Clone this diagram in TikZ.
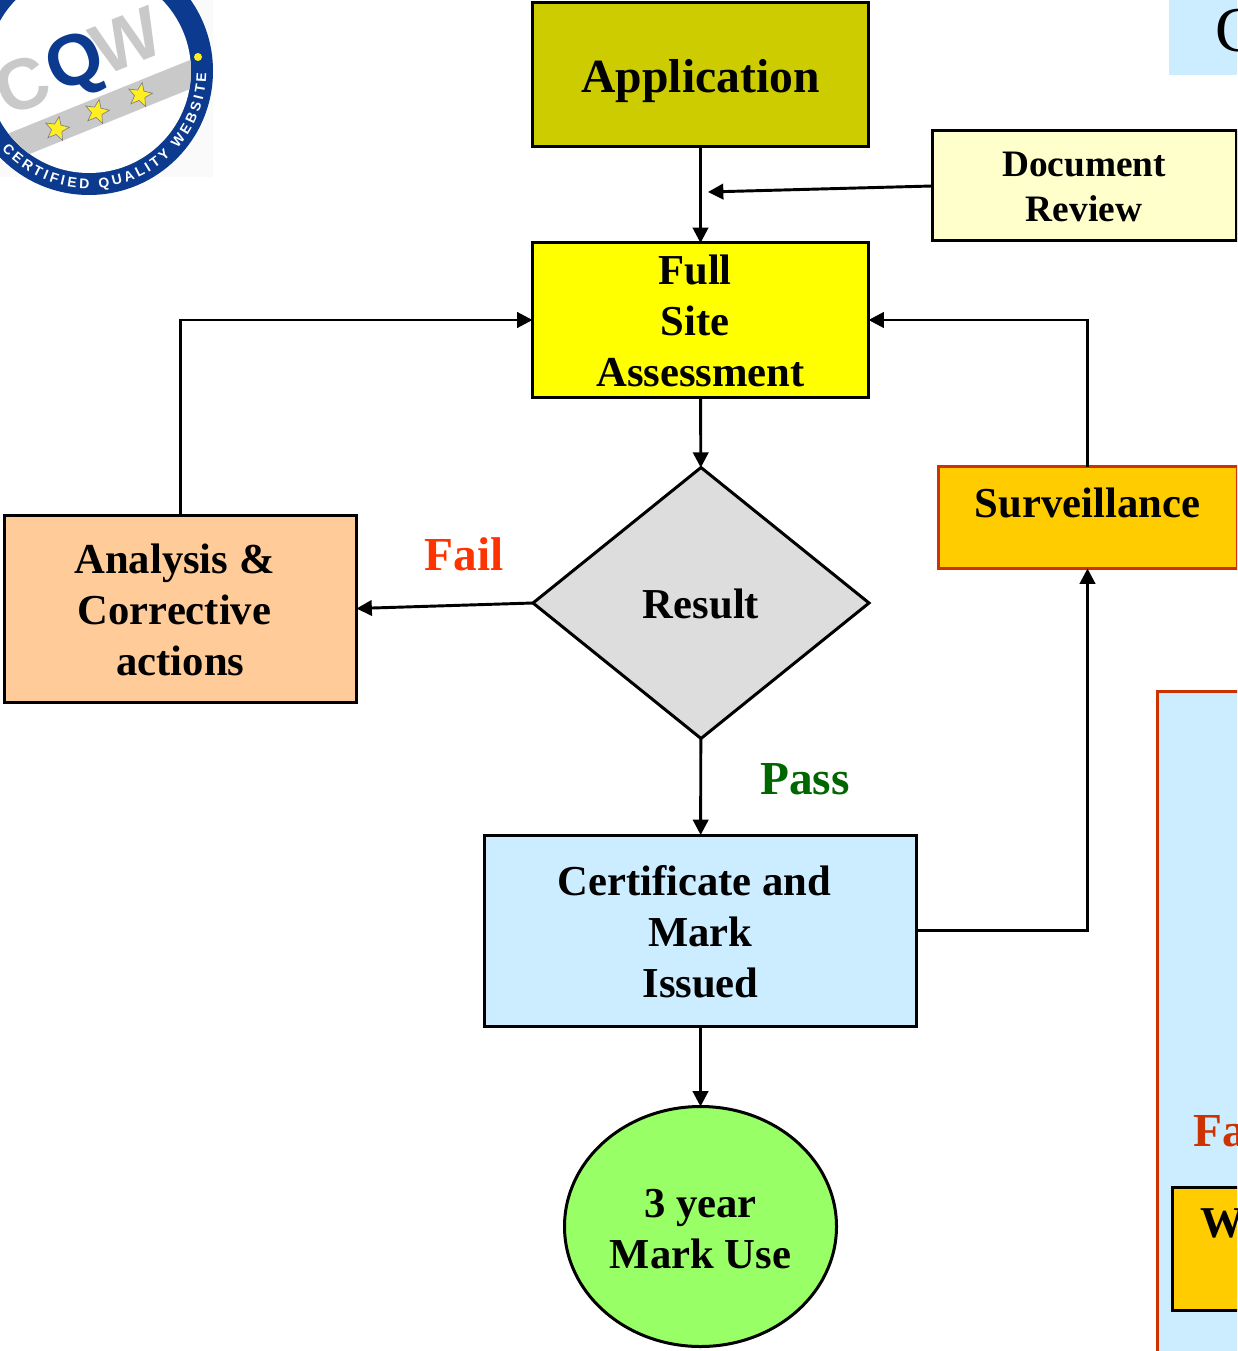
\documentclass[tikz,border=0pt]{standalone}
\usepackage{fontspec}
\setmainfont{Liberation Serif}
\newfontfamily\logosans{Liberation Sans}
\usetikzlibrary{arrows.meta,shapes.geometric,decorations.text}
\definecolor{cOlive}{HTML}{CCCC00}
\definecolor{cCream}{HTML}{FFFFCC}
\definecolor{cYellow}{HTML}{FFFF00}
\definecolor{cPeach}{HTML}{FFCC99}
\definecolor{cGrey}{HTML}{DDDDDD}
\definecolor{cAmber}{HTML}{FFCC00}
\definecolor{cSky}{HTML}{CCECFF}
\definecolor{cLime}{HTML}{99FF66}
\definecolor{cRust}{HTML}{CC3300}
\definecolor{cFail}{HTML}{FF3300}
\definecolor{cPass}{HTML}{006600}
\definecolor{cLogoBlue}{HTML}{0B3A8E}
\definecolor{cLogoGrey}{HTML}{C9C9C9}
\definecolor{cStar}{HTML}{FFEE22}
\newcommand{\shiftline}[2]{\mbox{#1\kern#2}}
\newcommand{\lowerstrut}{\rule{0pt}{23.5pt}}
\newcommand{\lowerstrutb}{\rule{0pt}{25pt}}
\newcommand{\lowerdocstrut}{\rule{0pt}{20pt}}
\tikzset{
  x=0.75pt,y=-0.75pt,
  dims/.style 2 args={minimum width=#1*0.75pt,minimum height=#2*0.75pt,inner sep=0pt,outer sep=0pt},
  flowbox/.style={draw=black,line width=2.25pt,align=center,font=\bfseries\fontsize{32}{38.25}\selectfont},
  docfont/.style={font=\bfseries\fontsize{28}{33.75}\selectfont},
  link/.style={draw=black,line width=2.2pt,-{Triangle[length=11.5pt,width=11.5pt]}},
  outcome/.style={font=\bfseries\fontsize{35.5}{40}\selectfont,anchor=base},
  logotext/.style={font=\logosans\bfseries\fontsize{54}{54}\selectfont,inner sep=0pt,rotate=22},
  logostar/.style={star,star points=5,star point ratio=2.3,minimum size=19pt,inner sep=0pt,fill=cStar,draw=black!50,line width=0.5pt,rotate=-10},
}
\begin{document}
\begin{tikzpicture}
\useasboundingbox (0,0) rectangle (1237,1351);
\clip (0,0) rectangle (1237,1351);

% logo
\fill[black!2] (0,0) rectangle (213,177);
\fill[cLogoBlue] (89,71) circle[radius=93pt];
\fill[white] (89,71) circle[radius=76.5pt];
\begin{scope}
  \clip (89,71) circle[radius=76.5pt];
  \fill[cLogoGrey] (-30,149) -- (200,56) -- (200,85) -- (0,166) -- cycle;
\end{scope}
\node[logotext,text=cLogoGrey] (logoC) at (22,85) {C};
\node[logotext,text=cLogoBlue] (logoQ) at (77,66) {Q};
\node[logotext,text=cLogoGrey] (logoW) at (127,41) {W};
\node[logostar] (star1) at (57,129) {};
\node[logostar] (star2) at (97,112) {};
\node[logostar] (star3) at (140,95) {};
\path[decorate,decoration={text along path,text align=fit to path,
  text={|\logosans\bfseries\fontsize{10.5}{10.5}\selectfont\color{white}|CERTIFIED QUALITY WEBSITE}}]
  (89,71) ++(222:88pt) arc[start angle=222,end angle=359,radius=88pt];
\fill[cStar] (198,57) circle[radius=3pt];

% cut-off panels at the right edge
\fill[cSky] (1169,0) rectangle (1237,75);
\node[font=\fontsize{48}{48}\selectfont,anchor=base west,inner sep=0pt] (panelC) at (1215,52) {C};
\filldraw[fill=cSky,draw=cRust,line width=2.25pt] (1157,691) rectangle (1260,1370);
\node[font=\bfseries\fontsize{35.5}{40}\selectfont,text=cRust,anchor=base west,inner sep=0pt] (panelFa) at (1193,1146) {Fa};
\filldraw[fill=cAmber,draw=black,line width=2.25pt] (1172,1187) rectangle (1260,1310);
\node[font=\bfseries\fontsize{33}{40}\selectfont,anchor=base west,inner sep=0pt] (panelW) at (1200,1237) {W};

% flow nodes
\node[flowbox,dims={336}{144},fill=cOlive,font=\bfseries\fontsize{35.7}{40}\selectfont,text depth=0pt] (app) at (700.5,75) {\raisebox{-0.75pt}{Application}};
\node[flowbox,dims={304}{110},fill=cCream,docfont] (doc) at (1084,186) {\lowerdocstrut Document\\Review};
\coordinate (docin) at (708,192);
\node[flowbox,dims={336}{154},fill=cYellow] (full) at (700.5,320) {\lowerstrut\shiftline{Full}{8.25pt}\\\shiftline{Site}{8.25pt}\\Assessment};
\node[flowbox,diamond,aspect=1.24,dims={336}{271},fill=cGrey] (result) at (701,603) {\lowerstrut Result};
\node[flowbox,dims={352}{187},fill=cPeach] (analysis) at (180.5,608.5) {\lowerstrutb\shiftline{Analysis \&}{9pt}\\\shiftline{Corrective}{9pt}\\actions};
\node[flowbox,dims={299}{102},fill=cAmber,draw=cRust,text height=0pt,text depth=0.75pt] (surv) at (1087.5,517.5) {Surveillance};
\node[flowbox,dims={432}{191},fill=cSky] (cert) at (700.5,930.5) {\lowerstrutb\shiftline{Certificate and}{9pt}\\Mark\\Issued};
\node[flowbox,ellipse,dims={272}{240},fill=cLime] (use) at (700.5,1226.5) {\lowerstrutb 3 year\\Mark Use};
\node[outcome,text=cFail] (fail) at (464,570) {Fail};
\node[outcome,text=cPass] (pass) at (805,794) {Pass};

% connectors
\draw[link] (app) -- (full);
\draw[link] (doc.west) -- (docin);
\draw[link] (full) -- (result);
\draw[link] (result.west) -- (analysis.east);
\draw[link] (result) -- (cert);
\draw[link] (cert) -- (use);
\draw[link] (analysis.north) |- (full.west);
\draw[link] (surv.north) |- (full.east);
\draw[link] (cert.east) -| (surv.south);
\end{tikzpicture}
\end{document}
